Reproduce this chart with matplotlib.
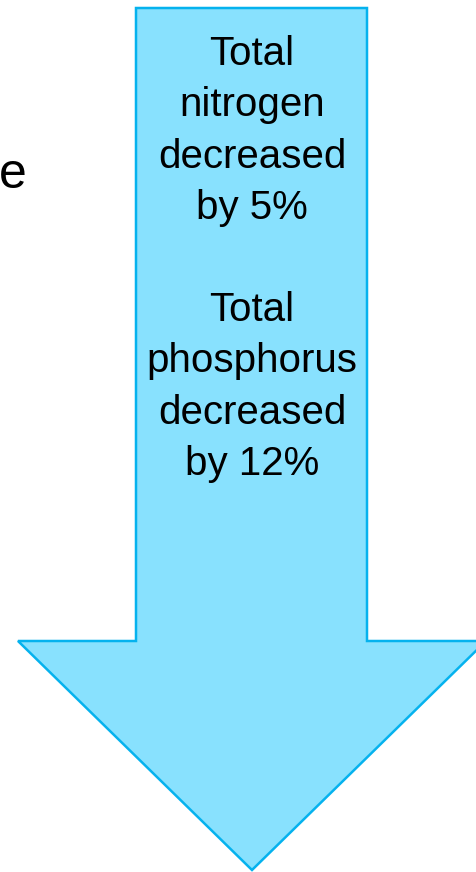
import matplotlib.pyplot as plt
from matplotlib.patches import Polygon

W, H = 477, 872

# arrow outline (pixel space, y downwards)
shaft_left, shaft_right = 136, 367
shaft_top, head_top = 8, 641
head_left, head_right = 18, 486
tip = (252, 870)

nitrogen_lines = ['Total', 'nitrogen', 'decreased', 'by 5%']
phosphorus_lines = ['Total', 'phosphorus', 'decreased', 'by 12%']
side_text = 'e'

fig = plt.figure(figsize=(W / 100, H / 100), dpi=100)
ax = fig.add_axes([0, 0, 1, 1])
ax.set_xlim(0, W)
ax.set_ylim(H, 0)
ax.axis('off')

pts = [(shaft_left, shaft_top), (shaft_right, shaft_top), (shaft_right, head_top),
       (head_right, head_top), tip, (head_left, head_top), (shaft_left, head_top)]
ax.add_patch(Polygon(pts, closed=True, facecolor='#88E1FE', edgecolor='#05B2EE',
                     linewidth=1.8, joinstyle='miter'))

block = '\n'.join(nitrogen_lines) + '\n\n' + '\n'.join(phosphorus_lines)
ax.text(252, 259, block, ha='center', va='center', fontsize=29,
        family='Liberation Sans', linespacing=1.44, color='black')

ax.text(27, 175, side_text, ha='right', va='center', fontsize=36,
        family='Liberation Sans', color='black')

plt.savefig('out.png', dpi=100)
